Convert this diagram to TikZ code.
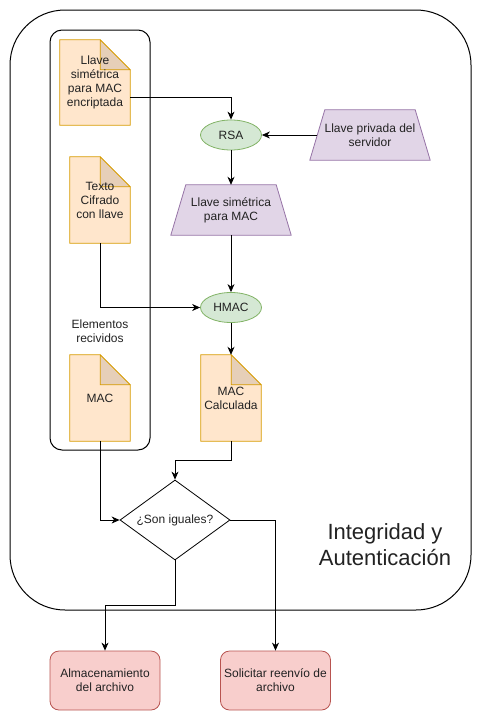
\documentclass[tikz,border=0pt]{standalone}
\usepackage{fontspec}
\setmainfont{Liberation Sans}
\usetikzlibrary{shapes.geometric,arrows.meta,calc}
\definecolor{docfill}{HTML}{FFE6CC}
\definecolor{docline}{HTML}{D79B00}
\definecolor{foldfill}{HTML}{E6CFB8}
\definecolor{ellfill}{HTML}{D5E8D4}
\definecolor{ellline}{HTML}{82B366}
\definecolor{trapfill}{HTML}{E1D5E7}
\definecolor{trapline}{HTML}{9673A6}
\definecolor{boxfill}{HTML}{F8CECC}
\definecolor{boxline}{HTML}{B85450}
\definecolor{textc}{HTML}{222222}
\pgfdeclarelayer{background}
\pgfsetlayers{background,main}
\newcommand\docshape[1]{%
  \begin{pgfonlayer}{background}
  \filldraw[fill=docfill,draw=docline,line width=0.8pt] (#1.north west) -- ([xshift=-30pt]#1.north east) -- ([yshift=-30pt]#1.north east) -- (#1.south east) -- (#1.south west) -- cycle;
  \filldraw[fill=foldfill,draw=docline,line width=0.8pt,line join=round] ([xshift=-30pt]#1.north east) -- ([xshift=-30pt,yshift=-30pt]#1.north east) -- ([yshift=-30pt]#1.north east) -- cycle;
  \end{pgfonlayer}}
\newcommand\trapshape[1]{%
  \begin{pgfonlayer}{background}
  \filldraw[fill=trapfill,draw=trapline,line width=0.8pt] ([xshift=15pt]#1.north west) -- ([xshift=-15pt]#1.north east) -- (#1.south east) -- (#1.south west) -- cycle;
  \end{pgfonlayer}}
\begin{document}
\begin{tikzpicture}[x=1pt,y=-1pt,
  txt/.style={font=\fontsize{12}{14}\selectfont,text=textc,align=center},
  docnode/.style={txt,inner sep=0pt},
  ellnode/.style={txt,ellipse,fill=ellfill,draw=ellline,line width=0.8pt,minimum width=61pt,minimum height=30pt,inner sep=0pt},
  trapnode/.style={txt,inner sep=0pt,minimum width=120pt,minimum height=50pt},
  boxnode/.style={txt,rounded corners=9pt,fill=boxfill,draw=boxline,line width=0.8pt,minimum width=110pt,minimum height=59pt,inner sep=0pt},
  arr/.style={draw=black,line width=0.8pt,-{Stealth[length=8pt,width=7pt,inset=2.5pt]}},
  cont/.style={draw=black,line width=1pt}]
\useasboundingbox (0,0) rectangle (481,721);
% containers
\begin{pgfonlayer}{background}
\draw[cont,rounded corners=55pt] (10,10) rectangle (471,610);
\draw[cont,rounded corners=12pt] (50,30) rectangle (150,450);
\end{pgfonlayer}
\node[txt] (elem) at (100,331) {Elementos\\recividos};
\node[txt,font=\fontsize{22}{26}\selectfont] (title) at (385,545) {Integridad y\\Autenticación};
% documents
\node[docnode,minimum width=70pt,minimum height=85pt] (doc1) at (95,82.5) {Llave\\simétrica\\para MAC\\encriptada};
\docshape{doc1}
\node[docnode,minimum width=60pt,minimum height=86pt] (doc2) at (100,200) {Texto\\Cifrado\\con llave};
\docshape{doc2}
\node[docnode,minimum width=60pt,minimum height=86pt] (mac) at (100,398) {MAC};
\docshape{mac}
\node[docnode,minimum width=60pt,minimum height=86pt] (macc) at (231,398) {MAC\\Calculada};
\docshape{macc}
% ellipses
\node[ellnode] (rsa) at (231,135) {RSA};
\node[ellnode] (hmac) at (231,307.5) {HMAC};
% trapezoids
\node[trapnode] (key) at (231,210) {Llave simétrica\\para MAC};
\trapshape{key}
\node[trapnode] (priv) at (370,135) {Llave privada del\\servidor};
\trapshape{priv}
% decision
\node[txt,diamond,draw=black,line width=0.8pt,fill=white,minimum width=110pt,minimum height=80pt,aspect=1.375,inner sep=0pt] (dia) at (175,520) {¿Son iguales?};
% results
\node[boxnode] (store) at (105,680.5) {Almacenamiento\\del archivo};
\node[boxnode] (resend) at (275.5,680.5) {Solicitar reenvío de\\archivo};
% connectors
\draw[arr] ([yshift=-15pt]doc1.east) -| (rsa.north);
\draw[arr] ([xshift=7.5pt]priv.west) -- (rsa.east);
\draw[arr] (rsa.south) -- (key.north);
\draw[arr] (key.south) -- (hmac.north);
\draw[arr] (doc2.south) |- (hmac.west);
\draw[arr] (hmac.south) -- (macc.north);
\coordinate (j1) at (175,460);
\draw[arr] (macc.south) |- (j1) -- (dia.north);
\draw[arr] (mac.south) |- (dia.west);
\draw[arr] (dia.east) -| (resend.north);
\draw[arr] (dia.south) -- ++(0,45) -| (store.north);
\end{tikzpicture}
\end{document}
